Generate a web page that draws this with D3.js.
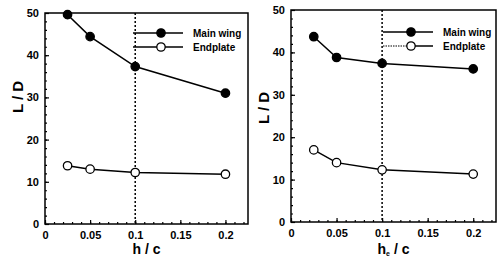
<!DOCTYPE html>
<html>
<head>
<meta charset="utf-8">
<script src="https://cdn.jsdelivr.net/npm/d3@7"></script>
<style>
  body { margin: 0; background: #fff; }
  text { font-family: "Liberation Sans", Arial, sans-serif; font-weight: bold; }
</style>
</head>
<body>
<svg id="chart" width="498" height="258"></svg>
<script>
// Data
var ratios = [0.025, 0.05, 0.1, 0.2];
var mainWingH = [49.6, 44.4, 37.3, 31.0];
var endplateH = [13.8, 13.0, 12.2, 11.8];
var mainWingHe = [43.7, 38.8, 37.4, 36.1];
var endplateHe = [17.0, 14.0, 12.3, 11.3];
var xTicks = [0, 0.05, 0.1, 0.15, 0.2];
var xTickLabels = ["0", "0.05", "0.1", "0.15", "0.2"];
var yTicks = [0, 10, 20, 30, 40, 50];
var legendNames = ["Main wing", "Endplate"];

var svg = d3.select("#chart");

var panels = [
    {left: 45, right: 248, top: 13, bottom: 224, main: mainWingH, end: endplateH,
     xlab: "h", sub: "", ylabY: 97, legX: 133, legY: 33, dottedLeg: false},
    {left: 291, right: 496, top: 10, bottom: 222, main: mainWingHe, end: endplateHe,
     xlab: "h", sub: "e", ylabY: 108, legX: 383, legY: 32, dottedLeg: true}
];

panels.forEach(function (p) {
    var x = d3.scaleLinear().domain([0, 0.225]).range([p.left, p.right]);
    var y = d3.scaleLinear().domain([0, 50]).range([p.bottom, p.top]);
    var g = svg.append("g");

    // frame
    g.append("rect")
        .attr("x", p.left).attr("y", p.top)
        .attr("width", p.right - p.left).attr("height", p.bottom - p.top)
        .attr("fill", "none").attr("stroke", "#000").attr("stroke-width", 1.5);

    // x axis ticks (inward) and labels
    var xAxis = d3.axisBottom(x).tickValues(d3.range(0, 0.2201, 0.01))
        .tickSize(-2).tickFormat("");
    g.append("g").attr("transform", "translate(0," + p.bottom + ")").call(xAxis)
        .call(function (a) { a.select(".domain").remove(); });
    g.append("g").attr("transform", "translate(0," + p.bottom + ")")
        .call(d3.axisBottom(x).tickValues(xTicks).tickSize(-4).tickPadding(7)
            .tickFormat(function (d, i) { return xTickLabels[i]; }))
        .call(function (a) {
            a.select(".domain").remove();
            a.selectAll("text").attr("font-size", 11).attr("font-weight", "bold")
                .attr("font-family", "Liberation Sans, Arial, sans-serif").attr("fill", "#000");
        });

    // y axis ticks
    g.append("g").attr("transform", "translate(" + p.left + ",0)")
        .call(d3.axisLeft(y).tickValues(d3.range(0, 50.1, 2)).tickSize(-2).tickFormat(""))
        .call(function (a) { a.select(".domain").remove(); });
    g.append("g").attr("transform", "translate(" + p.left + ",0)")
        .call(d3.axisLeft(y).tickValues(yTicks).tickSize(-4).tickPadding(6))
        .call(function (a) {
            a.select(".domain").remove();
            a.selectAll("text").attr("font-size", 11).attr("font-weight", "bold")
                .attr("font-family", "Liberation Sans, Arial, sans-serif").attr("fill", "#000");
        });
    g.selectAll(".tick line").attr("stroke", "#000").attr("stroke-width", 1.2);

    // vertical dotted line at 0.1
    g.append("line")
        .attr("x1", x(0.1)).attr("x2", x(0.1))
        .attr("y1", p.top).attr("y2", p.bottom)
        .attr("stroke", "#000").attr("stroke-width", 1.5)
        .attr("stroke-dasharray", "2,2");

    // axis labels
    var xl = g.append("text")
        .attr("x", (p.left + p.right) / 2).attr("y", 254)
        .attr("text-anchor", "middle").attr("font-size", 14);
    xl.append("tspan").text(p.xlab);
    if (p.sub) {
        xl.append("tspan").attr("font-size", 7).attr("dy", 2).text(p.sub);
        xl.append("tspan").attr("dy", -2).text(" / c");
    } else {
        xl.append("tspan").text(" / c");
    }
    g.append("text")
        .attr("transform", "translate(" + (p.left - 22) + "," + p.ylabY + ") rotate(-90)")
        .attr("text-anchor", "middle").attr("font-size", 15)
        .text("L / D");

    // series
    var line = d3.line()
        .x(function (d, i) { return x(ratios[i]); })
        .y(function (d) { return y(d); });

    [p.main, p.end].forEach(function (vals, si) {
        g.append("path").datum(vals).attr("d", line)
            .attr("fill", "none").attr("stroke", "#000").attr("stroke-width", 1.5);
        g.selectAll(".m" + si).data(vals).enter().append("circle")
            .attr("cx", function (d, i) { return x(ratios[i]); })
            .attr("cy", function (d) { return y(d); })
            .attr("r", 4.2)
            .attr("fill", si === 0 ? "#000" : "#fff")
            .attr("stroke", "#000").attr("stroke-width", 1.3);
    });

    // legend
    legendNames.forEach(function (name, i) {
        var ly = p.legY + i * 14;
        var x0 = p.legX, x1 = p.legX + 50, mx = p.legX + 28;
        if (p.dottedLeg && i === 1) {
            g.append("line").attr("x1", x0).attr("x2", mx).attr("y1", ly).attr("y2", ly)
                .attr("stroke", "#000").attr("stroke-width", 1.2).attr("stroke-dasharray", "1.5,1");
            g.append("line").attr("x1", mx).attr("x2", x1).attr("y1", ly).attr("y2", ly)
                .attr("stroke", "#000").attr("stroke-width", 1.5);
        } else {
            g.append("line").attr("x1", x0).attr("x2", x1).attr("y1", ly).attr("y2", ly)
                .attr("stroke", "#000").attr("stroke-width", 1.5);
        }
        g.append("circle").attr("cx", mx).attr("cy", ly).attr("r", 4.2)
            .attr("fill", i === 0 ? "#000" : "#fff")
            .attr("stroke", "#000").attr("stroke-width", 1.3);
        g.append("text").attr("x", x1 + 10).attr("y", ly + 4)
            .attr("font-size", 10).text(name);
    });
});
</script>
</body>
</html>
